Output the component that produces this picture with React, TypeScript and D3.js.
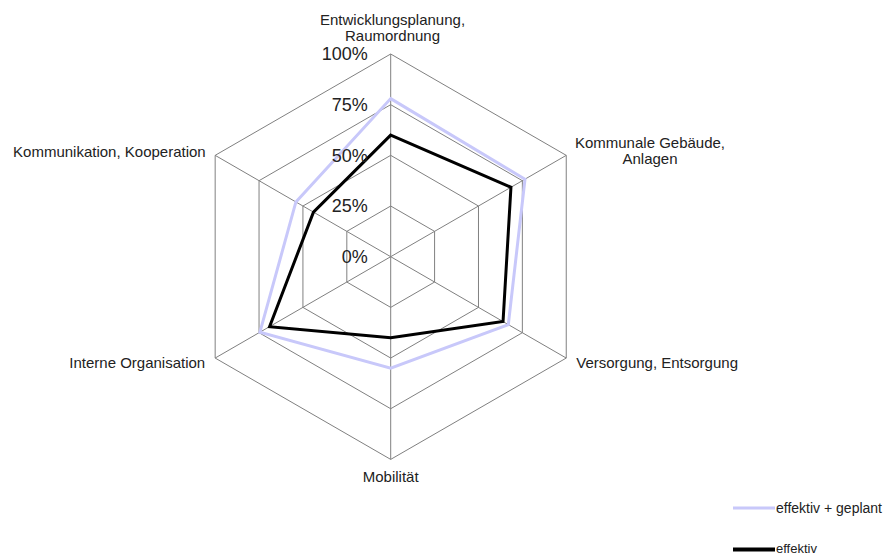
import React, { useRef, useEffect } from "react";
import * as d3 from "d3";

const categories = [
  ["Entwicklungsplanung,", "Raumordnung"],
  ["Kommunale Gebäude,", "Anlagen"],
  ["Versorgung, Entsorgung"],
  ["Mobilität"],
  ["Interne Organisation"],
  ["Kommunikation, Kooperation"],
];
const plannedValues = [0.78, 0.765, 0.67, 0.55, 0.745, 0.54];
const effectiveValues = [0.6, 0.685, 0.64, 0.4, 0.69, 0.44];
const tickValues = [0, 0.25, 0.5, 0.75, 1];
const tickLabels = ["0%", "25%", "50%", "75%", "100%"];
const seriesNames = ["effektiv + geplant", "effektiv"];

const App: React.FC = () => {
  const chartRef = useRef<SVGSVGElement | null>(null);

  useEffect(() => {
    if (!chartRef.current) return;
    const svg = d3.select(chartRef.current);
    svg.selectAll("*").remove();

    const cx = 390.7;
    const cy = 256.7;
    const radius = 202.7;
    const font = "Liberation Sans, Arial, sans-serif";

    const r = d3.scaleLinear().domain([0, 1]).range([0, radius]);
    const angle = d3
      .scaleLinear()
      .domain([0, categories.length])
      .range([0, 2 * Math.PI]);

    const g = svg.append("g").attr("transform", `translate(${cx},${cy})`);

    // grid hexagons
    const ring = d3
      .lineRadial<number>()
      .angle((_, i) => angle(i))
      .radius((d) => r(d))
      .curve(d3.curveLinearClosed);

    g.append("g")
      .selectAll("path")
      .data(tickValues.slice(1))
      .join("path")
      .attr("d", (t) => ring(categories.map(() => t)))
      .attr("fill", "none")
      .attr("stroke", "#808080")
      .attr("stroke-width", 1);

    // spokes
    g.append("g")
      .selectAll("line")
      .data(categories)
      .join("line")
      .attr("x1", 0)
      .attr("y1", 0)
      .attr("x2", (_, i) => r(1) * Math.sin(angle(i)))
      .attr("y2", (_, i) => -r(1) * Math.cos(angle(i)))
      .attr("stroke", "#808080")
      .attr("stroke-width", 1);

    // series
    const series = [
      { values: plannedValues, color: "#c8c8fa", width: 3 },
      { values: effectiveValues, color: "#000000", width: 3 },
    ];
    g.append("g")
      .selectAll("path")
      .data(series)
      .join("path")
      .attr("d", (s) => ring(s.values))
      .attr("fill", "none")
      .attr("stroke", (s) => s.color)
      .attr("stroke-width", (s) => s.width)
      .attr("stroke-linejoin", "miter");

    // percent labels
    g.append("g")
      .selectAll("text")
      .data(tickValues)
      .join("text")
      .attr("x", -23)
      .attr("y", (t) => -r(t))
      .attr("dy", "0.35em")
      .attr("text-anchor", "end")
      .attr("font-family", font)
      .attr("font-size", 18)
      .attr("fill", "#222")
      .text((_, i) => tickLabels[i]);

    // category labels
    const labelPos = [
      { x: 1.8, y: -236.7, anchor: "middle" },
      { x: 259.3, y: -113.7, anchor: "middle" },
      { x: 185.5, y: 106.3, anchor: "start" },
      { x: 0, y: 220, anchor: "middle" },
      { x: -185.5, y: 106, anchor: "end" },
      { x: -185, y: -105, anchor: "end" },
    ];
    categories.forEach((lines, i) => {
      const p = labelPos[i];
      const t = g
        .append("text")
        .attr("x", p.x)
        .attr("y", p.y)
        .attr("text-anchor", p.anchor)
        .attr("font-family", font)
        .attr("font-size", 15)
        .attr("fill", "#222");
      lines.forEach((line, j) => {
        t.append("tspan")
          .attr("x", p.x)
          .attr("dy", j === 0 ? "0.35em" : 15.5)
          .text(line);
      });
    });

    // legend
    const legend = svg.append("g");
    series.forEach((s, i) => {
      const y = i === 0 ? 508 : 549.5;
      legend
        .append("line")
        .attr("x1", 733)
        .attr("x2", 775)
        .attr("y1", y)
        .attr("y2", y)
        .attr("stroke", s.color)
        .attr("stroke-width", i === 0 ? 3 : 4);
      legend
        .append("text")
        .attr("x", 776)
        .attr("y", y)
        .attr("dy", i === 0 ? "0.35em" : "0.3em")
        .attr("font-family", font)
        .attr("font-size", i === 0 ? 14 : 13)
        .attr("fill", "#222")
        .text(seriesNames[i]);
    });
  }, []);

  return (
    <svg
      ref={chartRef}
      width={884}
      height={556}
      style={{ position: "absolute", left: 0, top: 0, background: "#fff" }}
    />
  );
};

export default App;
